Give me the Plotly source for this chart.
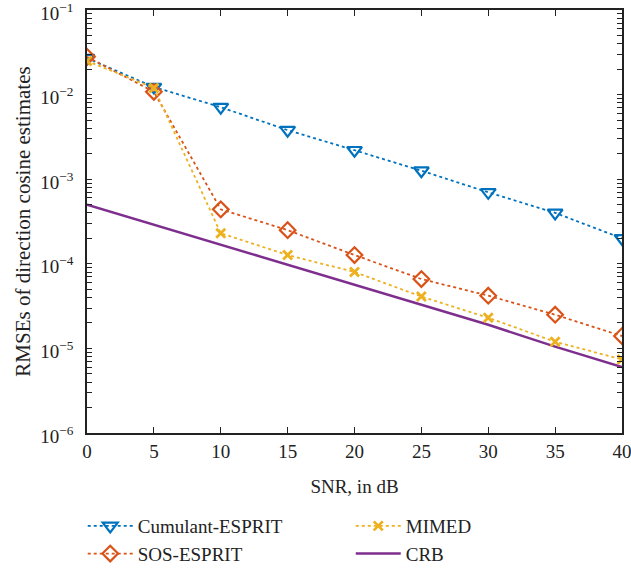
import plotly.graph_objects as go

snr = [0, 5, 10, 15, 20, 25, 30, 35, 40]
cumulant_esprit = [0.027, 0.0123, 0.0071, 0.0038, 0.0022, 0.00126, 0.0007, 0.0004, 0.0002]
sos_esprit = [0.028, 0.0108, 4.4e-4, 2.5e-4, 1.27e-4, 6.6e-5, 4.2e-5, 2.5e-5, 1.4e-5]
mimed = [0.025, 0.012, 2.3e-4, 1.27e-4, 8.0e-5, 4.1e-5, 2.3e-5, 1.2e-5, 7.4e-6]
crb = [5.0e-4, 2.9e-4, 1.7e-4, 9.8e-5, 5.7e-5, 3.3e-5, 1.9e-5, 1.05e-5, 6.0e-6]

x_ticks = [0, 5, 10, 15, 20, 25, 30, 35, 40]
y_major = [1e-6, 1e-5, 1e-4, 1e-3, 1e-2, 1e-1]
y_major_text = ["10<sup>−6</sup>", "10<sup>−5</sup>", "10<sup>−4</sup>",
                "10<sup>−3</sup>", "10<sup>−2</sup>", "10<sup>−1</sup>"]
y_minor = [m * 10.0 ** e for e in range(-6, -1) for m in range(2, 10)]

# all y ticks (decades labelled, intermediate ones unlabelled)
y_tickvals = y_major + y_minor
y_ticktext = y_major_text + [""] * len(y_minor)

FONT = "Liberation Serif"
INK = "#222"
C_BLUE = "#0072BD"
C_RED = "#D95319"
C_YEL = "#EDB120"
C_PUR = "#7E2F8E"
Y_RANGE = [-6.0001, -0.9999]

fig = go.Figure()
fig.add_trace(go.Scatter(
    x=snr, y=crb, name="CRB", mode="lines",
    line=dict(color=C_PUR, width=2.5), legend="legend2", legendrank=2))
fig.add_trace(go.Scatter(
    x=snr, y=cumulant_esprit, name="Cumulant-ESPRIT", mode="lines+markers",
    line=dict(color=C_BLUE, width=1.8, dash="dot"),
    marker=dict(symbol="triangle-down-open", size=13, color=C_BLUE, line=dict(width=2.2)),
    legend="legend", legendrank=1))
fig.add_trace(go.Scatter(
    x=snr, y=sos_esprit, name="SOS-ESPRIT", mode="lines+markers",
    line=dict(color=C_RED, width=1.8, dash="dot"),
    marker=dict(symbol="diamond-open", size=12, color=C_RED, line=dict(width=2.2)),
    legend="legend", legendrank=2))
fig.add_trace(go.Scatter(
    x=snr, y=mimed, name="MIMED", mode="lines+markers",
    line=dict(color=C_YEL, width=1.8, dash="dot"),
    marker=dict(symbol="x-thin", size=9, color=C_YEL, line=dict(width=2.8, color=C_YEL)),
    legend="legend2", legendrank=1))

axis_common = dict(
    showline=True, linecolor=INK, linewidth=1.5, mirror="ticks",
    ticks="inside", tickcolor=INK, showgrid=False, zeroline=False,
    tickfont=dict(family=FONT, size=19, color=INK), automargin=False,
    ticklabeloverflow="allow",
)

fig.update_xaxes(
    range=[0, 40], tickvals=x_ticks, ticklen=6, tickwidth=1.2,
    title=dict(text="SNR, in dB", font=dict(family=FONT, size=19, color=INK), standoff=19),
    **axis_common)
fig.update_yaxes(
    type="log", range=Y_RANGE, tickvals=y_tickvals, ticktext=y_ticktext,
    ticklen=5, tickwidth=1.1, ticklabelstandoff=8, ticklabelshift=3,
    title=dict(text="RMSEs of direction cosine estimates",
               font=dict(family=FONT, size=21, color=INK), standoff=4),
    **axis_common)

legend_common = dict(
    orientation="v", xanchor="left", yanchor="top",
    font=dict(family=FONT, size=19, color=INK),
    bgcolor="rgba(0,0,0,0)", tracegroupgap=0, itemwidth=45,
)

fig.update_layout(
    width=631, height=569,
    margin=dict(l=87, r=9, t=10, b=136, autoexpand=False),
    plot_bgcolor="white", paper_bgcolor="white",
    font=dict(family=FONT, size=19, color=INK),
    legend=dict(x=-0.008, y=-0.175, **legend_common),
    legend2=dict(x=0.493, y=-0.175, **legend_common),
)

fig.write_html("out.html")
